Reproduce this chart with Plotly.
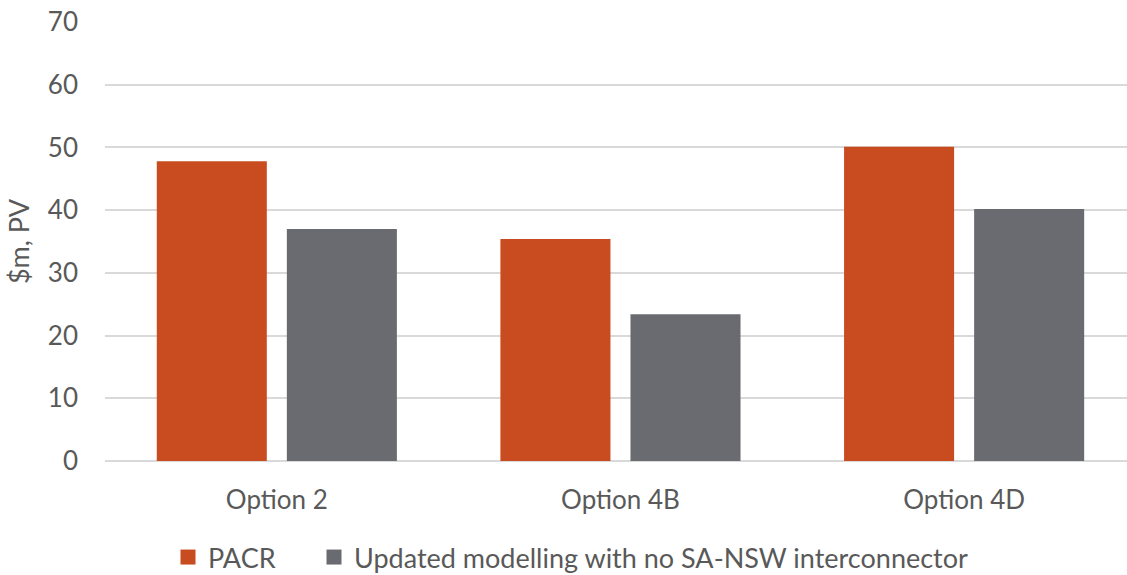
import plotly.graph_objects as go

# Present value of benefits by option ($m, PV)
categories = ["Option 2", "Option 4B", "Option 4D"]
pacr = [47.8, 35.4, 50.1]
updated = [37.0, 23.4, 40.2]
series_names = ["PACR", "Updated modelling with no SA-NSW interconnector"]
y_ticks = [0, 10, 20, 30, 40, 50, 60, 70]

ORANGE = "#C84C1F"
GREY = "#6A6B70"
TEXT = "#595959"
GRID = "#D9D9D9"
FONT = "Lato, 'Open Sans', sans-serif"

fig = go.Figure()
for vals, name, color in [(pacr, series_names[0], ORANGE),
                          (updated, series_names[1], GREY)]:
    fig.add_trace(go.Bar(x=categories, y=vals, name=name, showlegend=False,
                         marker=dict(color=color, line=dict(width=0))))

# Legend keys drawn as larger squares than the default bar swatch,
# each in its own legend so the two entries can be spaced freely
for name, color, lg in [(series_names[0], ORANGE, "legend"),
                        (series_names[1], GREY, "legend2")]:
    fig.add_trace(go.Scatter(x=[None], y=[None], mode="markers", name=name,
                             legend=lg,
                             marker=dict(symbol="square", size=15, color=color)))

legend_style = dict(orientation="h", xref="container", yref="container",
                    xanchor="left", y=1 - 557.5 / 575, yanchor="middle",
                    font=dict(size=27, color=TEXT), itemwidth=30,
                    bgcolor="rgba(0,0,0,0)")

fig.update_layout(
    width=1127, height=575,
    margin=dict(l=105, r=0, t=22, b=114),
    paper_bgcolor="white", plot_bgcolor="white",
    barmode="group", bargap=0.243, bargroupgap=0.154,
    font=dict(family=FONT, color=TEXT, size=26),
    showlegend=True,
    legend=dict(x=168 / 1127, **legend_style),
    legend2=dict(x=314 / 1127, **legend_style),
    xaxis=dict(range=[-0.5, 2.474], showgrid=False, showline=False,
               ticks="", tickfont=dict(size=26, color=TEXT),
               ticklabelstandoff=21),
    yaxis=dict(range=[0, 70], tickvals=y_ticks, showgrid=True,
               gridcolor=GRID, gridwidth=1.5, zeroline=True,
               zerolinecolor=GRID, zerolinewidth=1.5, showline=False,
               ticks="", tickfont=dict(size=26, color=TEXT),
               ticklabelstandoff=26,
               title=dict(text="$m, PV", font=dict(size=27, color=TEXT),
                          standoff=10)),
)

fig.write_html("out.html")
